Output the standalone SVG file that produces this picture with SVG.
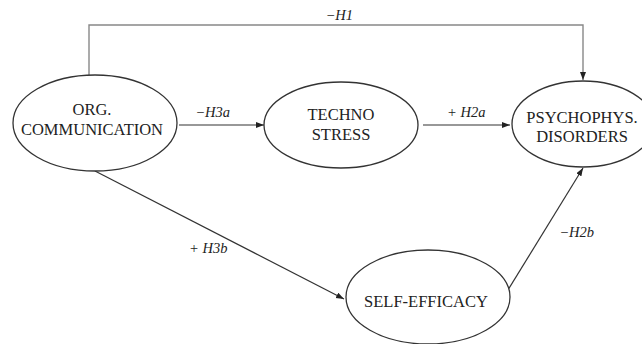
<svg xmlns="http://www.w3.org/2000/svg" width="642" height="344" viewBox="0 0 642 344">
<style>
.node ellipse{fill:#fff;stroke:#333;stroke-width:1.3}
.node text{font-family:"Liberation Serif","Times New Roman",serif;font-size:16.5px;fill:#222;text-anchor:middle}
.lbl{font-family:"Liberation Serif","Times New Roman",serif;font-size:14.5px;font-style:italic;fill:#222}
.edge{fill:none;stroke:#333;stroke-width:1.2}
.edge.gray{stroke:#888;stroke-width:1.4}
</style>
<defs>
<marker id="ah" markerUnits="userSpaceOnUse" markerWidth="9" markerHeight="7" refX="8" refY="3" orient="auto">
<path d="M0,0 L8,3 L0,6 z" fill="#222"/>
</marker>
</defs>
<rect width="642" height="344" fill="#fff"/>
<g id="connectors">
<polyline class="edge gray" points="89,75 89,25 583,25 583,80" marker-end="url(#ah)"/>
<line class="edge" x1="179" y1="125" x2="264" y2="125" marker-end="url(#ah)"/>
<line class="edge" x1="423" y1="125" x2="510" y2="125" marker-end="url(#ah)"/>
<line class="edge" x1="95" y1="171" x2="344" y2="299" marker-end="url(#ah)"/>
<line class="edge" x1="508" y1="290" x2="583" y2="168" marker-end="url(#ah)"/>
<text class="lbl" x="353" y="20" text-anchor="end">−H1</text>
<text class="lbl" x="230" y="117" text-anchor="end">−H3a</text>
<text class="lbl" x="447" y="117">+ H2a</text>
<text class="lbl" x="189" y="253">+ H3b</text>
<text class="lbl" x="594" y="237" text-anchor="end">−H2b</text>
</g>
<g id="org" class="node">
<ellipse cx="95" cy="123" rx="82" ry="48"/>
<text x="92" y="115">ORG.</text>
<text x="92" y="135">COMMUNICATION</text>
</g>
<g id="techno" class="node">
<ellipse cx="341" cy="125" rx="77" ry="43"/>
<text x="341" y="120">TECHNO</text>
<text x="341" y="140">STRESS</text>
</g>
<g id="psycho" class="node">
<ellipse cx="583" cy="124" rx="71" ry="43"/>
<text x="582" y="123">PSYCHOPHYS.</text>
<text x="582" y="142">DISORDERS</text>
</g>
<g id="selfeff" class="node">
<ellipse cx="428" cy="297" rx="82" ry="47"/>
<text x="426" y="307">SELF-EFFICACY</text>
</g>
</svg>
